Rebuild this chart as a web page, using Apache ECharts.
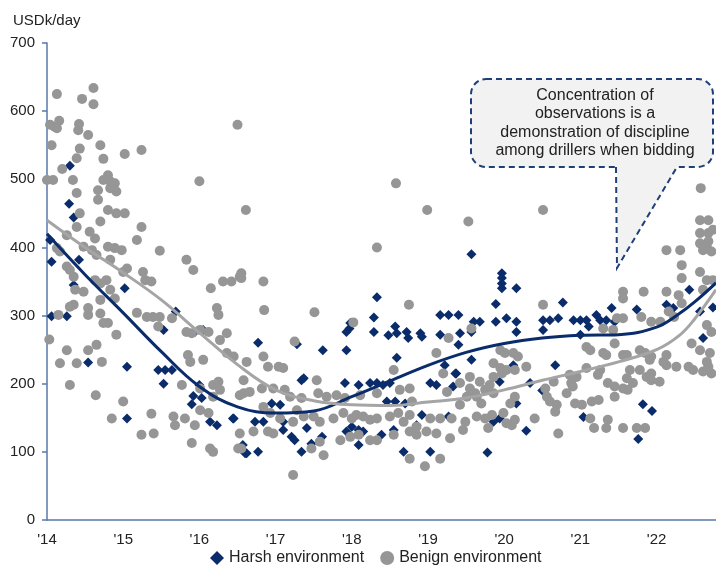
<!DOCTYPE html>
<html>
<head>
<meta charset="utf-8">
<script src="https://cdn.jsdelivr.net/npm/echarts/dist/echarts.min.js"></script>
<style>
  html, body { margin: 0; padding: 0; background: #fff; }
  #chart { width: 716px; height: 565px; }
</style>
</head>
<body>
<div id="chart"></div>
<script>
// Day rates (USDk/day) by fixture date, two-digit fractional year on x.
const yearLabels = ["'14", "'15", "'16", "'17", "'18", "'19", "'20", "'21", "'22"];
const firstYear = 14;

const harsh = [
  [14.30,520],[14.29,464],[14.35,444],[14.04,411],[14.06,379],[14.42,382],[14.35,345],[14.06,299],[14.26,299],
  [15.02,340],[15.69,306],[15.53,279],[15.94,276],[16.05,279],[14.54,231],[15.05,225],[15.46,220],[15.55,220],[15.64,220],
  [15.53,200],[15.05,149],[15.92,182],[16.03,179],[15.90,170],[16.00,198],[16.14,144],[16.23,139],[16.45,149],[16.57,110],[16.62,98],
  [16.77,260],[17.28,258],[17.62,249],[18.33,327],[18.29,297],[18.29,276],[17.93,276],[17.97,281],[17.98,289],[17.93,249],
  [18.48,271],[18.57,284],[18.59,274],[18.72,276],[18.74,267],[18.90,274],[18.92,269],[18.59,238],[19.16,301],[19.27,301],
  [19.40,301],[19.16,272],[19.42,274],[19.40,257],[19.57,390],[19.60,291],[19.57,235],[19.22,227],[19.36,215],[17.37,208],
  [17.34,205],[17.91,201],[18.09,198],[18.24,201],[18.33,201],[18.41,198],[18.50,201],[16.44,149],[16.73,144],[16.84,144],
  [17.10,144],[16.60,98],[16.77,100],[17.10,132],[17.21,122],[17.25,117],[17.34,100],[17.41,135],[17.47,112],[17.61,122],
  [17.93,130],[18.00,137],[18.09,110],[18.09,132],[18.15,130],[18.39,125],[18.55,132],[18.68,100],[18.85,139],[18.92,154],
  [19.03,100],[19.27,152],[18.46,174],[18.57,174],[18.70,171],[19.03,201],[19.11,198],[16.95,171],[17.06,169],[19.37,215],[19.33,196],
  [19.97,362],[19.97,355],[19.97,347],[19.97,340],[20.16,340],[19.89,317],[19.68,291],[19.57,276],[19.89,291],[20.03,296],
  [20.16,291],[20.16,276],[20.51,293],[20.60,293],[20.71,296],[20.77,319],[20.51,279],[20.91,293],[21.00,293],[21.08,293],
  [21.11,284],[21.21,301],[21.26,293],[21.00,272],[21.34,293],[21.41,311],[21.45,291],[21.74,309],[22.13,316],[22.22,311],
  [22.43,338],[22.57,306],[22.61,267],[22.74,312],[20.12,227],[20.67,227],
  [20.34,201],[19.94,203],[20.16,171],[19.94,149],[19.86,144],[20.29,131],[19.78,99],[20.50,190],[21.04,151],[21.82,170],[21.94,160],[21.76,119]
];

const benign = [
  [14.13,625],[14.61,634],[14.46,618],[14.61,610],[14.16,586],[14.04,580],[14.10,577],[14.13,575],[14.42,581],[14.41,572],
  [14.54,565],[14.06,550],[14.70,550],[14.43,545],[14.74,530],[14.39,531],[15.02,537],[15.24,543],[16.50,580],[14.20,515],
  [14.00,499],[14.08,499],[14.34,499],[14.80,506],[14.74,499],[14.83,497],[14.89,494],[14.91,482],[14.83,487],[16.00,497],
  [14.39,480],[14.67,484],
  [14.67,470],[14.80,455],[14.91,450],[15.02,450],[14.43,450],[14.70,438],[14.39,430],[15.24,430],[14.56,423],[14.63,413],
  [15.18,411],[14.26,418],[15.48,395],[14.48,401],[14.59,396],[14.65,389],[14.13,399],[14.17,394],[14.80,401],[14.89,399],
  [14.98,396],[14.83,382],[14.26,372],[14.30,367],[15.05,369],[15.00,364],[15.26,364],[15.83,382],[15.92,367],[14.35,357],
  [15.29,352],[15.37,350],[14.78,352],[14.70,347],[14.63,352],[14.37,338],[14.48,335],[14.83,338],[16.31,350],[16.42,350],
  [16.53,357],[16.55,362],[16.15,340],[14.70,323],[14.89,325],[14.30,313],[14.35,316],[14.54,311],[14.54,301],[14.70,303],
  [14.15,301],[15.18,304],[15.31,298],[15.39,298],[15.48,298],[16.23,311],[16.25,301],[14.80,289],[14.74,289],[15.46,284],
  [15.64,296],[15.83,276],[15.90,274],[16.01,279],[16.12,276],[16.36,274],[16.27,264],[14.91,272],[14.03,265],[14.65,257],
  [14.54,249],[14.26,249],[15.85,242],[15.88,232],[16.05,235],[16.36,245],[16.45,240],[16.62,232],[14.72,232],[14.17,230],[14.39,230],
  [14.30,198],[14.64,183],[15.00,174],[14.85,149],[15.37,156],[15.66,152],[15.68,139],[15.81,149],[15.94,139],[15.24,125],
  [15.40,127],[15.90,113],[15.77,198],[16.01,193],[16.18,198],[16.25,203],[16.27,191],[16.18,181],[16.01,161],[16.12,157],
  [16.14,105],[16.18,100],[16.53,127],[16.51,105],[16.55,105],[16.53,183],[16.58,205],
  [16.61,455],[18.58,494],[18.99,455],[19.53,438],[18.33,400],[16.55,355],[16.84,350],[16.85,308],[17.51,305],[18.75,316],
  [18.02,290],[17.25,262],[16.84,240],[16.90,225],[17.04,225],[17.10,223],[19.57,281],[19.27,267],[19.11,245],[18.55,220],
  [19.20,215],[19.55,210],
  [16.82,193],[16.66,188],[16.58,186],[16.97,193],[17.12,191],[17.19,181],[17.34,179],[17.54,205],[17.56,186],[17.67,181],
  [17.80,183],[17.91,179],[18.11,183],[18.33,186],[18.63,191],[18.76,193],[18.79,174],[19.25,188],[19.55,193],[19.62,186],
  [17.28,161],[17.37,152],[17.50,152],[17.58,144],[17.76,149],[17.89,157],[18.00,149],[18.06,154],[18.15,152],[18.24,147],
  [18.33,149],[16.93,157],[17.06,149],[16.84,166],[17.23,144],[18.50,152],[18.61,157],[18.76,154],[18.68,144],[18.85,137],
  [19.03,149],[19.16,149],[19.31,149],[19.49,144],[19.64,152],
  [16.71,130],[16.90,130],[16.97,127],[17.58,115],[17.85,117],[17.98,122],[18.09,125],[18.24,117],[18.33,117],[17.47,105],
  [17.63,95],[18.55,125],[18.76,130],[18.85,125],[18.98,130],[19.11,127],[19.29,120],[18.76,90],[18.96,79],[19.16,90],
  [17.23,66],[19.46,132],
  [22.58,487],[20.51,455],[22.57,440],[22.68,440],[22.57,421],[22.68,421],[22.74,426],[22.57,406],[22.66,401],[22.68,409],
  [22.61,396],[22.72,394],[22.13,396],[22.31,396],[22.33,374],[22.57,364],[22.33,355],[22.66,352],[22.74,352],[21.56,335],
  [21.56,325],[21.83,335],[22.13,335],[22.29,330],[22.33,318],[22.61,338],[20.51,316],[21.56,296],[21.48,296],[21.80,298],
  [21.93,291],[22.05,291],[22.16,306],[22.23,298],[21.30,281],[21.43,279],[21.45,259],[21.08,254],[21.13,249],[21.30,245],
  [21.34,242],[21.56,242],[21.61,242],[21.78,249],[21.85,245],[21.93,240],[22.13,242],[22.46,259],[22.57,249],[22.70,245],
  [22.66,286],[22.72,276],[19.95,249],[20.01,245],[20.12,245],[20.18,240],[20.29,225],[19.86,230],[19.95,223],[20.03,220],
  [20.14,220],[21.08,223],[21.26,220],[21.65,220],[21.78,220],[21.87,210],[22.13,227],[22.26,225],[22.48,220],[22.61,218],
  [22.72,215],[22.66,232],[22.68,225],[20.86,213],[20.95,210],
  [22.42,225],[19.42,201],[19.68,203],[19.75,191],[19.81,198],[19.86,210],[19.97,215],[19.51,181],[19.64,181],[19.70,171],
  [19.42,169],[19.75,149],[19.84,154],[19.86,186],[19.79,135],[19.99,157],[20.08,171],[20.14,181],[20.03,142],[20.10,139],
  [20.14,147],[20.40,149],[20.56,181],[20.60,174],[20.69,169],[20.67,159],[20.71,127],[20.54,193],[20.65,203],[20.82,186],
  [20.90,196],[20.88,201],[20.93,171],[21.02,169],[21.23,213],[21.15,174],[21.24,176],[21.13,149],[21.18,135],[21.36,147],
  [21.34,135],[21.36,201],[21.45,196],[21.45,181],[21.61,208],[21.69,201],[21.56,193],[21.62,191],[21.56,135],[21.74,135],
  [21.85,135],[21.93,215],[21.93,205],[22.04,203],[21.91,235],[22.09,232]
];

// Fitted trend lines, sampled along the x axis
const trendYears  = [14, 14.5, 15, 15.5, 16, 16.5, 17, 17.5, 18, 18.5, 19, 19.5, 20, 20.5, 21, 21.5, 22, 22.3, 22.5, 22.78];
const harshTrend  = [420, 360, 304, 247, 196, 166, 157, 160, 181, 204, 227, 246, 259, 267, 271, 272, 283, 303, 320, 348];
const benignTrend = [440, 400, 363, 323, 275, 228, 191, 175, 169, 168, 173, 179, 191, 205, 218, 232, 250, 271, 295, 338];

const NAVY = '#0b2c6b';
const GREY = '#969696';
const AXIS = '#5a78aa';
const FONT = '"Liberation Sans", Arial, sans-serif';
const CALLOUT_STROKE = '#1f3f78';
const CALLOUT_FILL = '#f2f2f2';

const chart = echarts.init(document.getElementById('chart'), null, { renderer: 'canvas' });

chart.setOption({
  animation: false,
  backgroundColor: '#ffffff',
  textStyle: { fontFamily: FONT },
  title: {
    text: 'USDk/day',
    left: 8, top: 8,
    textStyle: { fontSize: 15, fontWeight: 'normal', color: '#222', fontFamily: FONT }
  },
  legend: {
    top: 545, left: 205,
    itemWidth: 14, itemHeight: 14, itemGap: 16,
    textStyle: { fontSize: 16, color: '#222', fontFamily: FONT },
    data: [
      { name: 'Harsh environment', icon: 'diamond' },
      { name: 'Benign environment', icon: 'circle' }
    ]
  },
  grid: { left: 47, right: 0, top: 43, bottom: 45 },
  xAxis: {
    type: 'value',
    min: firstYear, max: 22.78, interval: 1,
    splitLine: { show: false },
    axisTick: { show: false },
    axisLine: { lineStyle: { color: AXIS, width: 1.5 } },
    axisLabel: {
      margin: 12, fontSize: 15, color: '#222', fontFamily: FONT,
      showMaxLabel: false,
      formatter: v => {
        const i = Math.round(v - firstYear);
        return Math.abs(v - firstYear - i) < 1e-6 && yearLabels[i] ? yearLabels[i] : '';
      }
    }
  },
  yAxis: {
    type: 'value',
    min: 0, max: 700, interval: 100,
    splitLine: { show: false },
    axisLine: { show: true, lineStyle: { color: AXIS, width: 1.5 } },
    axisTick: { show: true, inside: false, length: 5, lineStyle: { color: AXIS, width: 1.5 } },
    axisLabel: { margin: 12, fontSize: 15, color: '#222', fontFamily: FONT }
  },
  series: [
    {
      name: 'Harsh environment', type: 'scatter', symbol: 'diamond', symbolSize: 10,
      itemStyle: { color: NAVY, opacity: 1 }, data: harsh, z: 2
    },
    {
      name: 'Benign environment', type: 'scatter', symbol: 'circle', symbolSize: 10,
      itemStyle: { color: GREY, opacity: 1 }, data: benign, z: 3
    },
    {
      name: 'Harsh trend', type: 'line', smooth: 0.4, showSymbol: false, silent: true, z: 4,
      lineStyle: { color: NAVY, width: 3 },
      data: trendYears.map((x, i) => [x, harshTrend[i]])
    },
    {
      name: 'Benign trend', type: 'line', smooth: 0.4, showSymbol: false, silent: true, z: 4,
      lineStyle: { color: '#a5a5a5', width: 3 },
      data: trendYears.map((x, i) => [x, benignTrend[i]])
    }
  ],
  graphic: [
    {
      // speech-bubble body
      type: 'rect', z: 100,
      shape: { x: 471, y: 79, width: 242, height: 88, r: 15 },
      style: { fill: CALLOUT_FILL, stroke: CALLOUT_STROKE, lineWidth: 2, lineDash: [6, 4] }
    },
    {
      // pointer fill, covering the body's bottom edge where it opens
      type: 'polygon', z: 101,
      shape: { points: [[617, 164], [677, 164], [677, 168], [617, 268]] },
      style: { fill: CALLOUT_FILL, stroke: null }
    },
    {
      type: 'polyline', z: 102,
      shape: { points: [[616, 167], [617, 268], [677, 167]] },
      style: { fill: null, stroke: CALLOUT_STROKE, lineWidth: 2, lineDash: [6, 4] }
    },
    {
      type: 'text', z: 103, x: 595, y: 86,
      style: {
        text: 'Concentration of\nobservations is a\ndemonstration of discipline\namong drillers when bidding',
        fill: '#222', font: '16px ' + FONT, textAlign: 'center', lineHeight: 18.5
      }
    }
  ]
});
</script>
</body>
</html>
